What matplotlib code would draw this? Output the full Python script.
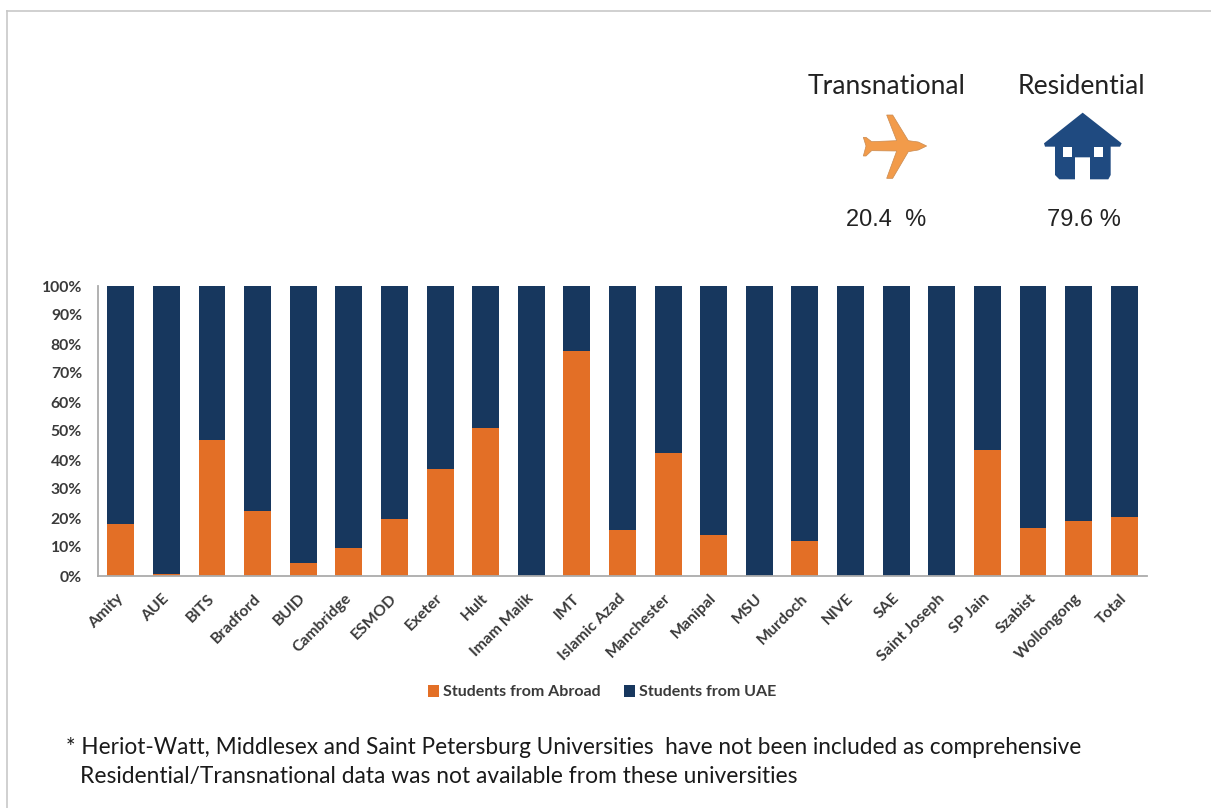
import matplotlib
matplotlib.use("Agg")
import matplotlib.pyplot as plt
from matplotlib.patches import Polygon, Rectangle
from matplotlib.lines import Line2D
from matplotlib.transforms import ScaledTranslation

categories = ["Amity", "AUE", "BITS", "Bradford", "BUID", "Cambridge", "ESMOD", "Exeter", "Hult",
              "Imam Malik", "IMT", "Islamic Azad", "Manchester", "Manipal", "MSU", "Murdoch", "NIVE",
              "SAE", "Saint Joseph", "SP Jain", "Szabist", "Wollongong", "Total"]
abroad = [18, 0.7, 47, 22.5, 4.5, 9.7, 19.5, 37, 51, 0, 77.5, 16, 42.5, 14, 0, 12, 0, 0, 0, 43.5, 16.5, 19, 20.5]
uae = [100 - v for v in abroad]
yticks = list(range(0, 101, 10))
series_names = ["Students from Abroad", "Students from UAE"]

ORANGE = "#E36F26"
NAVY = "#17375E"
W, H = 1211, 808
SANS = "Lato"
LABEL = "#3A3A3A"

fig = plt.figure(figsize=(W / 100, H / 100), dpi=100, facecolor="white")

ov = fig.add_axes([0, 0, 1, 1])
ov.set_xlim(0, W)
ov.set_ylim(H, 0)
ov.axis("off")

ov.add_line(Line2D([6.5, 6.5], [10.5, H], color="#D0D0D0", lw=1.4))
ov.add_line(Line2D([6.5, W], [10.5, 10.5], color="#C8C8C8", lw=1.2))

ov.text(887, 87, "Transnational", fontsize=19.1, family=SANS, color="#222222", ha="center", va="center")
ov.text(1081, 87, "Residential", fontsize=19.1, family=SANS, color="#222222", ha="center", va="center")
ov.text(886, 220, "20.4  %", fontsize=17, family="Liberation Sans", color="#222222", ha="center", va="center")
ov.text(1084, 220, "79.6 %", fontsize=17, family="Liberation Sans", color="#222222", ha="center", va="center")

plane = [(440, 288), (415, 276), (385, 272), (338, 195), (320, 195), (350, 272), (275, 275), (258, 262),
         (250, 262), (258, 288), (250, 318), (258, 318), (275, 302), (350, 303), (320, 385), (338, 385),
         (385, 305), (415, 300)]
ov.add_patch(Polygon([(780 + x / 3, 50 + y / 3) for x, y in plane], closed=True,
                     fc="#F29B4A", ec="#C98A50", lw=0.5))
house = [(908, 188), (1025, 280), (1020, 290), (992, 290), (992, 375), (985, 388), (930, 388), (930, 322),
         (885, 322), (885, 388), (838, 388), (825, 375), (825, 290), (795, 290), (792, 280)]
ov.add_patch(Polygon([(780 + x / 3, 50 + y / 3) for x, y in house], closed=True, fc="#1F4A80", ec="none"))
for wx in (850, 943):
    ov.add_patch(Rectangle((780 + wx / 3, 50 + 290 / 3), 25 / 3, 32 / 3, fc="white", ec="none"))

ov.text(66, 748, "* Heriot-Watt, Middlesex and Saint Petersburg Universities  have not been included as comprehensive",
        fontsize=16.3, family=SANS, color="#1A1A1A", ha="left", va="center")
ov.text(80, 777, "Residential/Transnational data was not available from these universities",
        fontsize=16.35, family=SANS, color="#1A1A1A", ha="left", va="center")

ax = fig.add_axes([98 / W, 1 - 576 / H, (1147 - 98) / W, (576 - 286) / H])
ax.patch.set_alpha(0)
x = list(range(len(categories)))
b1 = ax.bar(x, abroad, width=0.59, color=ORANGE, label=series_names[0])
b2 = ax.bar(x, uae, width=0.59, bottom=abroad, color=NAVY, label=series_names[1])
ax.set_xlim(-0.5, len(categories) - 0.5)
ax.set_ylim(0, 100)
ax.set_yticks(yticks)
ax.set_yticklabels([f"{v}%" for v in yticks], fontsize=11.3, family=SANS, weight="bold", color=LABEL)
ax.set_xticks(x)
ax.set_xticklabels(categories, rotation=45, ha="right", rotation_mode="anchor",
                   fontsize=11.3, family=SANS, weight="bold", color=LABEL)
ax.tick_params(axis="y", length=0, pad=11.5)
ax.tick_params(axis="x", length=0, pad=11)
shift = ScaledTranslation(-4.5 / 100, 0, fig.dpi_scale_trans)
for lab in ax.get_xticklabels():
    lab.set_transform(lab.get_transform() + shift)
for s in ("top", "right"):
    ax.spines[s].set_visible(False)
for s in ("left", "bottom"):
    ax.spines[s].set_color("#ABABAB")
    ax.spines[s].set_linewidth(1.3)

fig.legend(handles=[b1, b2], labels=series_names, loc="center", bbox_to_anchor=(602 / W, 1 - 692 / H),
           ncol=2, frameon=False, prop={"family": SANS, "size": 11.5, "weight": "bold"}, labelcolor=LABEL,
           handlelength=0.7, handleheight=0.8, handletextpad=0.2, columnspacing=1.5)

fig.savefig("out.png", dpi=100)
